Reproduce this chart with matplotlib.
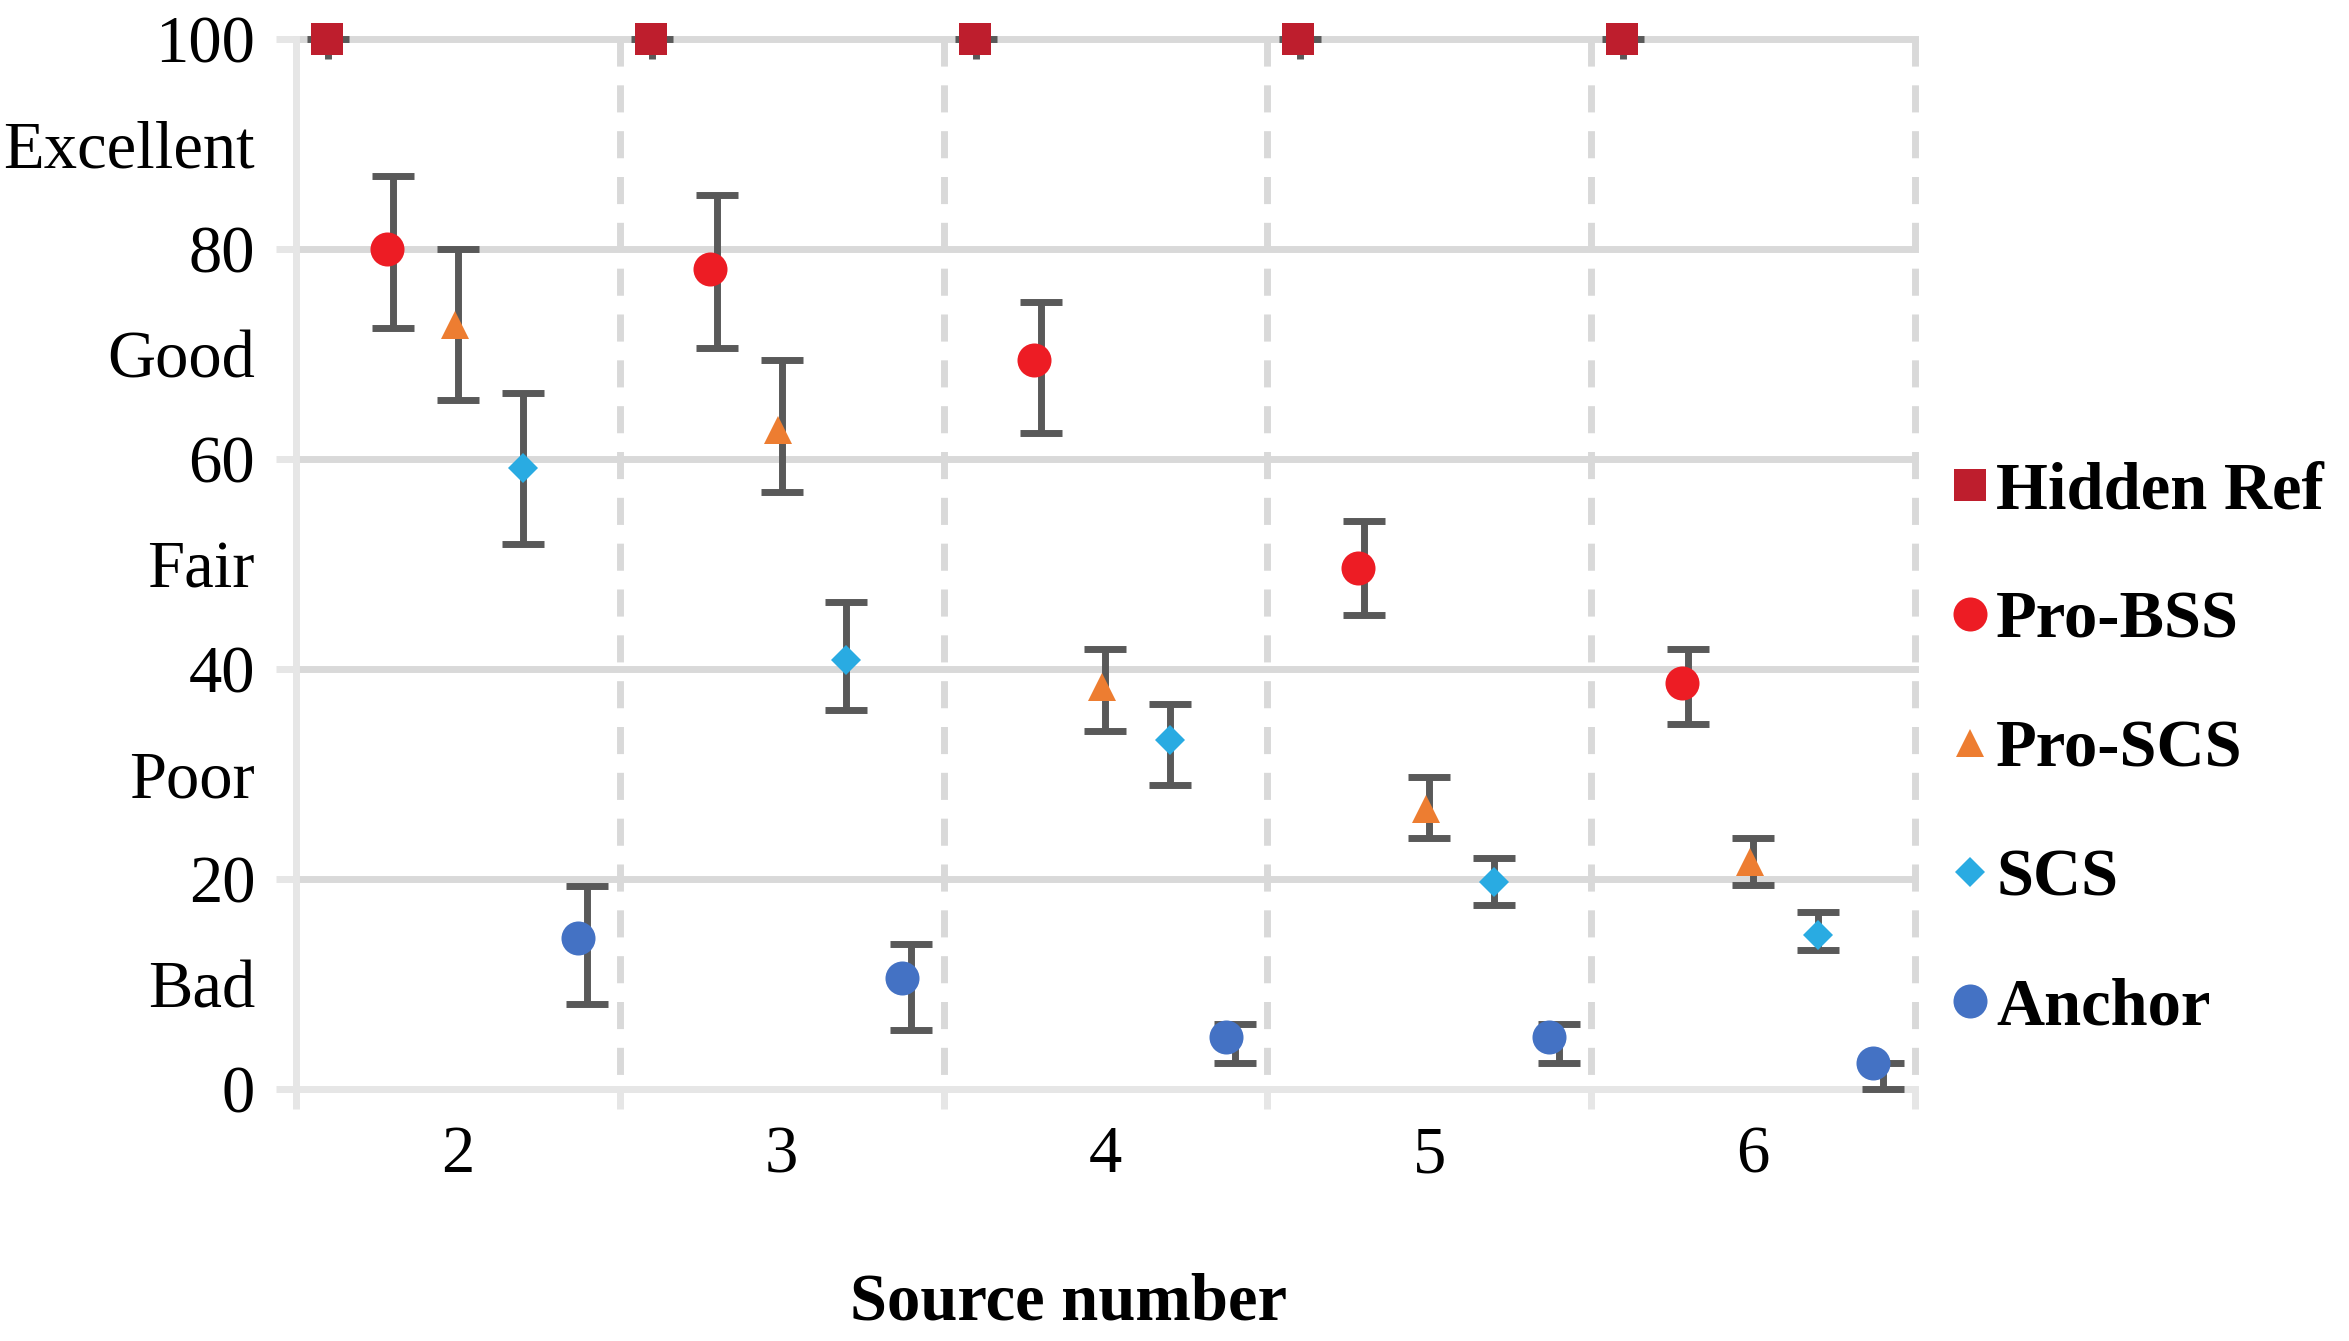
import matplotlib
matplotlib.use("Agg")
import numpy as np
import matplotlib.pyplot as plt
from matplotlib.lines import Line2D

plt.rcParams["font.family"] = ["Liberation Serif", "DejaVu Serif"]

# data (MUSHRA-style scores per source number)
sources = [2, 3, 4, 5, 6]
series_names = ["Hidden Ref", "Pro-BSS", "Pro-SCS", "SCS", "Anchor"]

hidden_ref = [100, 100, 100, 100, 100]
hidden_ref_lo = [98.1, 98.1, 98.1, 98.1, 98.1]
hidden_ref_hi = [100, 100, 100, 100, 100]

pro_bss = [80.0, 78.1, 69.4, 49.6, 38.7]
pro_bss_lo = [72.5, 70.6, 62.5, 45.1, 34.8]
pro_bss_hi = [87.0, 85.1, 75.0, 54.1, 41.9]

pro_scs = [72.8, 62.8, 38.3, 26.7, 21.6]
pro_scs_lo = [65.6, 56.9, 34.1, 23.9, 19.4]
pro_scs_hi = [80.0, 69.4, 41.9, 29.7, 23.9]

scs = [59.1, 40.9, 33.2, 19.7, 14.7]
scs_lo = [51.9, 36.1, 29.0, 17.5, 13.2]
scs_hi = [66.3, 46.4, 36.7, 22.0, 16.9]

anchor = [14.4, 10.6, 5.0, 5.0, 2.5]
anchor_lo = [8.1, 5.6, 2.5, 2.5, 0.0]
anchor_hi = [19.3, 13.8, 6.2, 6.2, 2.5]

y_ticks = [0, 20, 40, 60, 80, 100]
quality_ticks = [10, 30, 50, 70, 90]
quality_labels = ["Bad", "Poor", "Fair", "Good", "Excellent"]

# styling
colors = ["#BE1E2D", "#ED1C24", "#ED7D31", "#29ABE2", "#4472C4"]
markers = ["s", "o", "^", "D", "o"]
msizes = [23.5, 24.5, 19.5, 15.0, 24.5]
bar_offsets = [-0.40, -0.20, 0.0, 0.20, 0.40]
marker_offsets = [-0.404, -0.22, -0.01, 0.20, 0.371]

means = [hidden_ref, pro_bss, pro_scs, scs, anchor]
lows = [hidden_ref_lo, pro_bss_lo, pro_scs_lo, scs_lo, anchor_lo]
highs = [hidden_ref_hi, pro_bss_hi, pro_scs_hi, scs_hi, anchor_hi]

grid_c = "#D9D9D9"
axis_c = "#E6E6E6"
err_c = "#595959"
lw = 5.0

fig = plt.figure(figsize=(23.49, 13.41), dpi=100)
ax = fig.add_axes([0.126, 0.1879, 0.6892, 0.783])

x = np.array(sources, dtype=float)

# horizontal grid
for yv in y_ticks[1:]:
    ax.axhline(yv, color=grid_c, lw=lw, zorder=1, clip_on=False)

# dashed category dividers
for xb in np.arange(2.5, 7.0, 1.0):
    ax.plot([xb, xb], [100, 0], color=grid_c, lw=lw,
            linestyle=(0, (3.9, 2.7)), zorder=1.5, clip_on=False)

handles = []
for i, (name, m, lo, hi, c, mk, ms, bo, mo) in enumerate(
        zip(series_names, means, lows, highs, colors, markers, msizes,
            bar_offsets, marker_offsets)):
    lo = np.array(lo)
    hi = np.array(hi)
    mid = (lo + hi) / 2
    half = (hi - lo) / 2
    eb = ax.errorbar(x + bo, mid, yerr=half, fmt="none", ecolor=err_c,
                     elinewidth=lw, capsize=14.8, capthick=lw, zorder=3)
    for art in list(eb.lines[1]) + list(eb.lines[2]):
        art.set_clip_on(False)
    if i == 0:
        # the reference shows no lower cap for the hidden reference
        eb.lines[1][0].set_visible(False)
    ax.plot(x + mo, m, linestyle="none", marker=mk, markersize=ms,
            color=c, markeredgewidth=0, zorder=4, clip_on=False)
    handles.append(Line2D([], [], linestyle="none", marker=mk, markersize=ms,
                          color=c, markeredgewidth=0, label=name))

ax.set_xlim(1.5, 6.5)
ax.set_ylim(0, 100)

for side in ["top", "right"]:
    ax.spines[side].set_visible(False)
for side in ["left", "bottom"]:
    ax.spines[side].set_color(axis_c)
    ax.spines[side].set_linewidth(lw)
    ax.spines[side].set_zorder(2)

ax.set_yticks(y_ticks)
ax.set_yticklabels([str(v) for v in y_ticks])
ax.set_yticks(quality_ticks, minor=True)
ax.set_yticklabels(quality_labels, minor=True)
ax.tick_params(axis="y", which="major", length=14.4, width=lw, color=axis_c,
               pad=15, labelsize=48)
ax.tick_params(axis="y", which="minor", length=0, pad=29.5, labelsize=48)

ax.set_xticks(sources)
ax.set_xticklabels([str(s) for s in sources])
ax.set_xticks(np.arange(1.5, 7.0, 1.0), minor=True)
ax.tick_params(axis="x", which="major", length=0, pad=26, labelsize=48)
ax.tick_params(axis="x", which="minor", length=14.4, width=lw, color=axis_c)

fig.text(0.455, 0.0164, "Source number", ha="center", va="baseline",
         fontsize=48, fontweight="bold")

fig.legend(handles=handles, loc="center left", bbox_to_anchor=(0.8316, 0.4407),
           frameon=False, borderpad=0, borderaxespad=0, handlelength=0.5,
           handletextpad=0.14, labelspacing=1.02,
           prop={"size": 48, "weight": "bold"})

fig.savefig("out.png", dpi=100, facecolor="white")
